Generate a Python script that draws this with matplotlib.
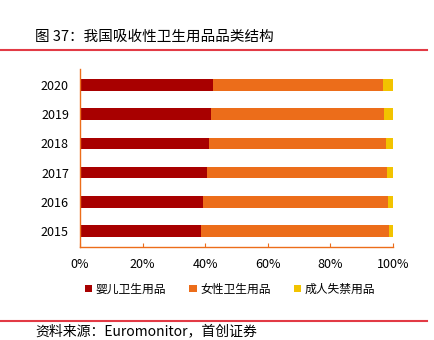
import matplotlib
matplotlib.use('Agg')
import matplotlib.pyplot as plt
import numpy as np

plt.rcParams['font.family'] = ['Noto Sans CJK SC', 'DejaVu Sans']

years = ['2015', '2016', '2017', '2018', '2019', '2020']
baby = [38.7, 39.3, 40.6, 41.2, 41.9, 42.5]
female = [60.0, 59.1, 57.5, 56.6, 55.2, 54.3]
adult = [1.3, 1.6, 1.9, 2.2, 2.9, 3.2]
series_names = ['婴儿卫生用品', '女性卫生用品', '成人失禁用品']
colors = ['#A80000', '#EC6D1A', '#F2C300']

W, H = 435, 340
fig = plt.figure(figsize=(W / 100, H / 100), dpi=100)
ax = fig.add_axes([80 / W, 1 - 247 / H, 313 / W, 178 / H])

y = np.arange(len(years))
left = np.zeros(len(years))
for vals, name, c in zip([baby, female, adult], series_names, colors):
    ax.barh(y, vals, left=left, height=0.4, color=c, label=name)
    left += np.array(vals)

ax.set_xlim(0, 100)
ax.set_ylim(-0.55, 5.55)
ax.set_yticks(y)
ax.set_yticklabels(years, fontsize=9)
ax.set_xticks(np.arange(0, 101, 20))
ax.set_xticklabels([f'{v}%' for v in range(0, 101, 20)], fontsize=9)
ax.tick_params(axis='y', length=0, pad=8)
ax.tick_params(axis='x', direction='in', length=3, color='#EC6D1A', pad=8)
for s in ['top', 'right']:
    ax.spines[s].set_visible(False)
for s in ['left', 'bottom']:
    ax.spines[s].set_color('#EC6D1A')
    ax.spines[s].set_linewidth(1)

leg = fig.legend(loc='center', bbox_to_anchor=(230 / W, 1 - 289 / H), ncol=3,
                 frameon=False, fontsize=8.5, handlelength=0.6, handleheight=0.6,
                 handletextpad=0.3, columnspacing=2.0)

fig.text(35 / W, 1 - 37 / H, '图 37：我国吸收性卫生用品品类结构', fontsize=10.5,
         va='center', ha='left')
fig.add_artist(plt.Line2D([0, 427 / W], [1 - 50 / H, 1 - 50 / H], color='#E23A45', lw=1.5))
fig.add_artist(plt.Line2D([0, 427 / W], [1 - 321 / H, 1 - 321 / H], color='#E23A45', lw=1.5))
fig.text(35 / W, 1 - 331 / H, '资料来源：Euromonitor，首创证券', fontsize=10,
         va='center', ha='left', style='italic')

fig.savefig('out.png', dpi=100)
